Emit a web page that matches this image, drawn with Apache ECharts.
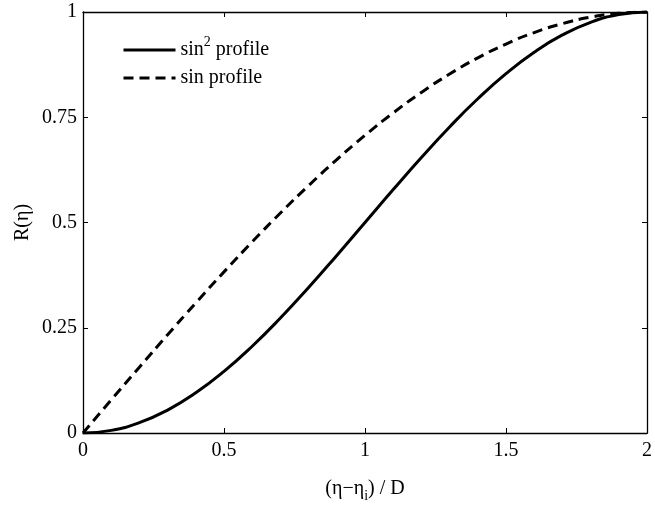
<!DOCTYPE html>
<html>
<head>
<meta charset="utf-8">
<script src="https://cdn.jsdelivr.net/npm/echarts@6/dist/echarts.min.js"></script>
<style>
  html, body { margin: 0; padding: 0; background: #fff; }
  #chart { width: 655px; height: 508px; }
</style>
</head>
<body>
<div id="chart"></div>
<script>
// Normalised position (eta - eta_i) / D
const xValues = [0, 0.1, 0.2, 0.3, 0.4, 0.5, 0.6, 0.7, 0.8, 0.9, 1.0,
                 1.1, 1.2, 1.3, 1.4, 1.5, 1.6, 1.7, 1.8, 1.9, 2.0];
// R(eta) for the sin^2 profile
const sin2Values = [0, 0.0062, 0.0245, 0.0545, 0.0955, 0.1464, 0.2061, 0.2730, 0.3455, 0.4218, 0.5,
                    0.5782, 0.6545, 0.7270, 0.7939, 0.8536, 0.9045, 0.9455, 0.9755, 0.9938, 1.0];
// R(eta) for the sin profile
const sinValues = [0, 0.0785, 0.1564, 0.2334, 0.3090, 0.3827, 0.4540, 0.5225, 0.5878, 0.6494, 0.7071,
                   0.7604, 0.8090, 0.8526, 0.8910, 0.9239, 0.9511, 0.9724, 0.9877, 0.9969, 1.0];
const xTicks = [0, 0.5, 1, 1.5, 2];
const yTicks = [0, 0.25, 0.5, 0.75, 1];
const seriesNames = ['sin2', 'sin'];

const FONT = '"Liberation Serif", "Times New Roman", serif';
const pairs = (ys) => xValues.map((x, i) => [x, ys[i]]);

const chart = echarts.init(document.getElementById('chart'), null, { renderer: 'canvas' });

const axisCommon = {
  type: 'value',
  axisLine: { show: true, onZero: false, lineStyle: { color: '#000', width: 1.3 } },
  axisTick: { show: true, inside: true, length: 5, lineStyle: { color: '#000', width: 1 } },
  splitLine: { show: false },
  axisLabel: { color: '#000', fontFamily: FONT, fontSize: 20 }
};

chart.setOption({
  animation: false,
  backgroundColor: '#fff',
  grid: { left: 83, right: 7, top: 12, bottom: 74 },
  legend: {
    orient: 'vertical',
    left: 117,
    top: 30,
    itemWidth: 52,
    itemHeight: 14,
    itemGap: 8,
    itemStyle: { opacity: 0 },
    lineStyle: { width: 3 },
    textStyle: {
      color: '#000', fontFamily: FONT, fontSize: 20,
      rich: {
        a: { fontFamily: FONT, fontSize: 20, lineHeight: 30, color: '#000' },
        s: { fontFamily: FONT, fontSize: 14, lineHeight: 14, color: '#000', verticalAlign: 'top' }
      }
    },
    formatter: (name) => name === 'sin2'
      ? '{a|sin}{s|2}{a| profile}'
      : '{a|sin profile}',
    data: seriesNames
  },
  xAxis: [
    Object.assign({}, axisCommon, {
      min: 0, max: 2, interval: 0.5, position: 'bottom',
      axisLabel: Object.assign({}, axisCommon.axisLabel, {
        margin: 8,
        formatter: (v) => xTicks.includes(v) ? String(v) : ''
      }),
      name: '{a|(η−η}{s|i}{a|) / D}',
      nameLocation: 'middle',
      nameMoveOverlap: false,
      nameGap: 42,
      nameTextStyle: {
        color: '#000', fontFamily: FONT, fontSize: 20,
        rich: {
          a: { fontFamily: FONT, fontSize: 20, lineHeight: 28, color: '#000' },
          s: { fontFamily: FONT, fontSize: 14, lineHeight: 14, color: '#000', verticalAlign: 'bottom' }
        }
      }
    }),
    Object.assign({}, axisCommon, {
      min: 0, max: 2, interval: 0.5, position: 'top',
      axisLabel: { show: false }
    })
  ],
  yAxis: [
    Object.assign({}, axisCommon, {
      min: 0, max: 1, interval: 0.25, position: 'left',
      axisLabel: Object.assign({}, axisCommon.axisLabel, {
        margin: 6,
        formatter: (v) => yTicks.includes(v) ? String(v) : ''
      }),
      name: 'R(η)',
      nameLocation: 'middle',
      nameMoveOverlap: false,
      nameGap: 50,
      nameTextStyle: { color: '#000', fontFamily: FONT, fontSize: 20 }
    }),
    Object.assign({}, axisCommon, {
      min: 0, max: 1, interval: 0.25, position: 'right',
      axisLabel: { show: false }
    })
  ],
  series: [
    {
      name: 'sin2', type: 'line', data: pairs(sin2Values),
      smooth: true, symbol: 'none',
      lineStyle: { color: '#000', width: 3, type: 'solid' },
      itemStyle: { color: '#000' }
    },
    {
      name: 'sin', type: 'line', data: pairs(sinValues),
      smooth: true, symbol: 'none',
      lineStyle: { color: '#000', width: 3, type: [10, 6] },
      itemStyle: { color: '#000' }
    }
  ]
});
</script>
</body>
</html>
